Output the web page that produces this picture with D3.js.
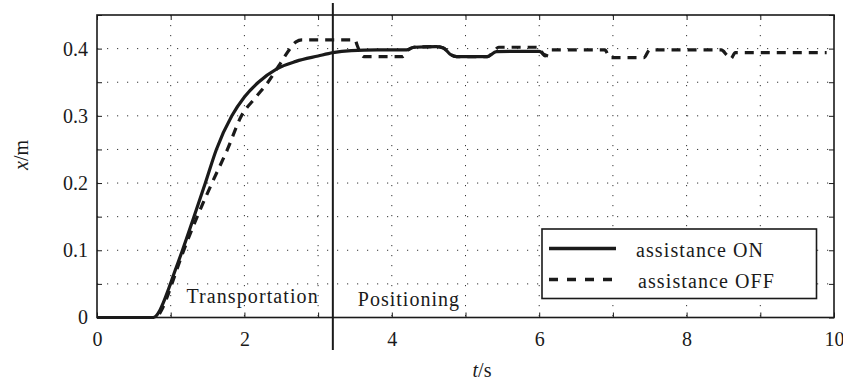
<!DOCTYPE html>
<html><head><meta charset="utf-8">
<script src="https://cdn.jsdelivr.net/npm/d3@7/dist/d3.min.js"></script>
<style>
body{margin:0;background:#fff;}
svg text{font-family:"Liberation Serif","DejaVu Serif","Times New Roman",serif !important;fill:#1a1a1a;}
</style></head>
<body><svg id="c" width="843" height="385"></svg>
<script>
// ---- data ----
const onT = [0,0.76,0.8,0.85,0.9,0.97,1.06,1.15,1.31,1.47,1.62,1.83,2.0,2.19,2.44,2.7,3.0,3.2,3.45,3.8,4.2,4.3,4.6,4.7,4.8,4.88,5.29,5.42,5.7,6.0,6.07,6.12];
const onX = [0,0,0.002,0.01,0.022,0.042,0.07,0.097,0.148,0.2,0.25,0.3,0.328,0.35,0.37,0.381,0.389,0.394,0.397,0.398,0.398,0.402,0.403,0.401,0.391,0.388,0.388,0.3955,0.396,0.396,0.391,0.389];
const offT = [0,0.78,0.83,0.88,0.94,1.0,1.16,1.36,1.56,1.77,1.96,2.15,2.32,2.47,2.62,2.7,2.78,3.5,3.53,3.58,3.62,4.15,4.22,4.3,4.6,4.7,4.8,4.88,5.3,5.4,5.45,6.0,6.05,6.08,6.15,6.89,6.96,7.42,7.5,8.47,8.55,8.6,8.66,9.9];
const offX = [0,0,0.003,0.012,0.027,0.045,0.095,0.15,0.2,0.25,0.3,0.327,0.35,0.375,0.4,0.41,0.413,0.413,0.405,0.392,0.388,0.388,0.398,0.402,0.403,0.401,0.391,0.388,0.388,0.398,0.402,0.402,0.392,0.389,0.398,0.398,0.3865,0.3865,0.398,0.398,0.39,0.385,0.394,0.394];
const xTicks = [0,1,2,3,4,5,6,7,8,9,10];
const xTickLabels = ["0","","2","","4","","6","","8","","10"];
const yTicks = [0,0.05,0.1,0.15,0.2,0.25,0.3,0.35,0.4,0.45];
const yTickLabels = ["0","","0.1","","0.2","","0.3","","0.4",""];
const seriesNames = ["assistance ON","assistance OFF"];
const phaseT = 3.2;
const phaseLabels = ["Transportation","Positioning"];

// ---- layout ----
const L=97,R=834,T=15,B=317.5;
const x=d3.scaleLinear().domain([0,10]).range([L,R]);
const y=d3.scaleLinear().domain([0,0.45]).range([B,T]);
const svg=d3.select("#c");
const ink="#1a1a1a";
const FF="Liberation Serif, DejaVu Serif, serif";

// grid
const g=svg.append("g");
g.selectAll(".gx").data(xTicks.slice(1,-1)).enter().append("line")
 .attr("x1",d=>x(d)).attr("x2",d=>x(d)).attr("y1",T).attr("y2",B)
 .attr("stroke","#333").attr("stroke-width",1).attr("stroke-dasharray","1.2,8.8");
g.selectAll(".gy").data(yTicks.slice(1,-1)).enter().append("line")
 .attr("x1",L).attr("x2",R).attr("y1",d=>y(d)).attr("y2",d=>y(d))
 .attr("stroke","#333").attr("stroke-width",1).attr("stroke-dasharray","1.2,8.8");

// axes
function style(sel){sel.attr("font-family",FF);sel.select(".domain").remove();sel.selectAll("line").attr("stroke",ink).attr("stroke-width",1);
 sel.selectAll("text").attr("font-size",20).attr("fill",ink);}
svg.append("g").attr("transform",`translate(0,${B})`)
 .call(d3.axisBottom(x).tickValues(xTicks).tickSize(-5).tickPadding(10).tickFormat((d,i)=>xTickLabels[i])).call(style)
 .selectAll("text").attr("dy","0.9em");
svg.append("g").attr("transform",`translate(0,${T})`)
 .call(d3.axisTop(x).tickValues(xTicks).tickSize(-5).tickFormat("")).call(style);
svg.append("g").attr("transform",`translate(${L},0)`)
 .call(d3.axisLeft(y).tickValues(yTicks).tickSize(-5).tickPadding(9).tickFormat((d,i)=>yTickLabels[i])).call(style);
svg.append("g").attr("transform",`translate(${R},0)`)
 .call(d3.axisRight(y).tickValues(yTicks).tickSize(-5).tickFormat("")).call(style);
svg.append("rect").attr("x",L).attr("y",T).attr("width",R-L).attr("height",B-T)
 .attr("fill","none").attr("stroke",ink).attr("stroke-width",1.6);

// phase line and labels
svg.append("line").attr("x1",x(phaseT)).attr("x2",x(phaseT)).attr("y1",3).attr("y2",350)
 .attr("stroke",ink).attr("stroke-width",2);
svg.append("text").attr("x",x(phaseT)-14).attr("y",302.5).attr("text-anchor","end")
 .attr("font-size",20).attr("letter-spacing",1.1).text(phaseLabels[0]);
svg.append("text").attr("x",x(phaseT)+25).attr("y",306).attr("text-anchor","start")
 .attr("font-size",20).attr("letter-spacing",1.0).text(phaseLabels[1]);

// series
const line=d3.line().x(d=>x(d[0])).y(d=>y(d[1])).curve(d3.curveMonotoneX);
svg.append("path").datum(offT.map((t,i)=>[t,offX[i]])).attr("d",line)
 .attr("fill","none").attr("stroke",ink).attr("stroke-width",3.2).attr("stroke-dasharray","9,7");
svg.append("path").datum(onT.map((t,i)=>[t,onX[i]])).attr("d",line)
 .attr("fill","none").attr("stroke",ink).attr("stroke-width",3.2);

// legend
const lg=svg.append("g");
lg.append("rect").attr("x",542).attr("y",229).attr("width",274.5).attr("height",69.5)
 .attr("fill","#fff").attr("stroke",ink).attr("stroke-width",1.6);
lg.append("line").attr("x1",549).attr("x2",616).attr("y1",248.5).attr("y2",248.5)
 .attr("stroke",ink).attr("stroke-width",3.6);
lg.append("line").attr("x1",549).attr("x2",616).attr("y1",279.5).attr("y2",279.5)
 .attr("stroke",ink).attr("stroke-width",3.6).attr("stroke-dasharray","9,9");
lg.append("text").attr("x",636).attr("y",257).attr("font-size",20).attr("letter-spacing",1.1).text(seriesNames[0]);
lg.append("text").attr("x",638).attr("y",288).attr("font-size",20).attr("letter-spacing",1.1).text(seriesNames[1]);

// axis titles
const yl=svg.append("text").attr("transform","translate(28,155) rotate(-90)").attr("text-anchor","middle").attr("font-size",20);
yl.append("tspan").attr("font-style","italic").text("x");
yl.append("tspan").text("/m");
const xl=svg.append("text").attr("x",482).attr("y",377).attr("text-anchor","middle").attr("font-size",20);
xl.append("tspan").attr("font-style","italic").text("t");
xl.append("tspan").text("/s");
</script></body></html>
